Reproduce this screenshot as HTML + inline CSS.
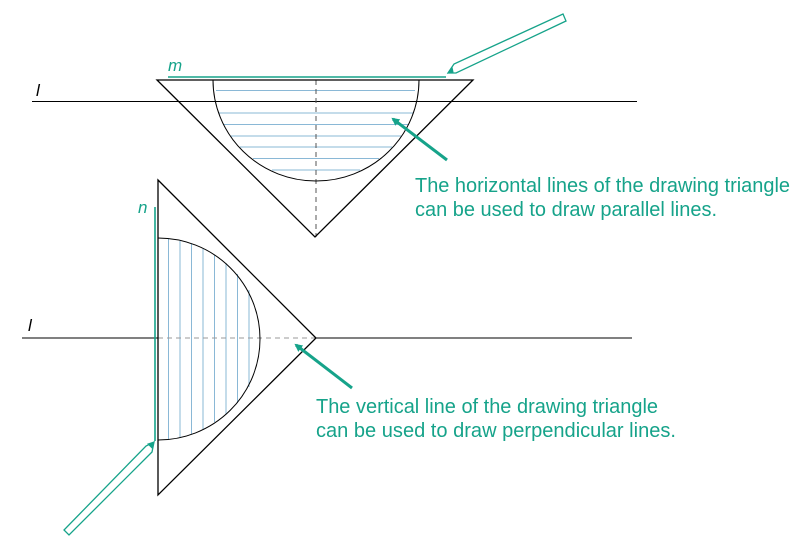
<!DOCTYPE html>
<html><head><meta charset="utf-8"><style>
html,body{margin:0;padding:0;background:#fff;}
svg{display:block;}
text{font-family:"Liberation Sans",Arial,sans-serif;}
</style></head><body>
<svg width="800" height="557" viewBox="0 0 800 557" xmlns="http://www.w3.org/2000/svg">
<defs>
<marker id="ah" markerWidth="8" markerHeight="8" refX="6" refY="4" orient="auto" markerUnits="userSpaceOnUse">
<path d="M0,0 L8,4 L0,8 Z" fill="#16a38a"/>
</marker>
</defs>
<g fill="none" stroke-width="1">
<g stroke="#8ab8d6">
<line x1="216" y1="90.5" x2="415" y2="90.5"/>
<line x1="214" y1="101.5" x2="416" y2="101.5"/>
<line x1="219" y1="113" x2="413" y2="113"/>
<line x1="224" y1="124.5" x2="408" y2="124.5"/>
<line x1="231" y1="136" x2="401" y2="136"/>
<line x1="240" y1="147" x2="392" y2="147"/>
<line x1="253" y1="158.5" x2="379" y2="158.5"/>
<line x1="272" y1="170" x2="360" y2="170"/>
</g>
<line x1="32" y1="101.5" x2="637" y2="101.5" stroke="#000"/>
<line x1="316" y1="80" x2="316" y2="237" stroke="#555" stroke-dasharray="5,4"/>
<path d="M213,80 A103,101 0 0 0 419,80" stroke="#000"/>
<path d="M157,80 L473,80 L315,237 Z" stroke="#000" stroke-width="1.3"/>
<line x1="168" y1="77" x2="446" y2="77" stroke="#16a38a" stroke-width="1.6"/>
<path d="M448,73 L454,64 L563,14 L566,21 L456,73 Z" stroke="#16a38a" stroke-width="1.3"/>
<path d="M448,73 L452,67 L453,72 Z" fill="#16a38a" stroke="#16a38a"/>
<g stroke="#8ab8d6">
<line x1="168.5" y1="239" x2="168.5" y2="439"/>
<line x1="180" y1="241" x2="180" y2="437"/>
<line x1="191.5" y1="244" x2="191.5" y2="434"/>
<line x1="203" y1="249" x2="203" y2="429"/>
<line x1="214.5" y1="255" x2="214.5" y2="422"/>
<line x1="226" y1="263" x2="226" y2="414"/>
<line x1="237.5" y1="274" x2="237.5" y2="403"/>
<line x1="249" y1="290" x2="249" y2="387"/>
</g>
<line x1="22" y1="338" x2="158" y2="338" stroke="#000"/>
<line x1="316" y1="338" x2="632" y2="338" stroke="#000"/>
<line x1="158" y1="338" x2="316" y2="338" stroke="#999" stroke-dasharray="5,4"/>
<path d="M158,238 A102,101 0 0 1 158,440" stroke="#000"/>
<path d="M158,180 L158,495 L316,338 Z" stroke="#000" stroke-width="1.3"/>
<line x1="155" y1="207" x2="155" y2="441" stroke="#16a38a" stroke-width="1.6"/>
<path d="M154,442 L152,452 L69,535 L64,530 L146,446 Z" stroke="#16a38a" stroke-width="1.3"/>
<path d="M154,442 L148,444 L152,448 Z" fill="#16a38a" stroke="#16a38a"/>
<line x1="447" y1="160" x2="393" y2="119" stroke="#16a38a" stroke-width="3" marker-end="url(#ah)"/>
<line x1="352" y1="388" x2="296" y2="345" stroke="#16a38a" stroke-width="3" marker-end="url(#ah)"/>
</g>
<g fill="#16a38a" font-size="20">
<text x="415" y="192" textLength="375" lengthAdjust="spacingAndGlyphs">The horizontal lines of the drawing triangle</text>
<text x="415" y="216" textLength="302" lengthAdjust="spacingAndGlyphs">can be used to draw parallel lines.</text>
<text x="316" y="413" textLength="342" lengthAdjust="spacingAndGlyphs">The vertical line of the drawing triangle</text>
<text x="316" y="437" textLength="360" lengthAdjust="spacingAndGlyphs">can be used to draw perpendicular lines.</text>
<text x="168" y="71" font-style="italic" font-size="17">m</text>
<text x="138" y="213" font-style="italic" font-size="17">n</text>
</g>
<g fill="#000" font-style="italic" font-size="17">
<text x="36" y="96">l</text>
<text x="28" y="331">l</text>
</g>
</svg>
</body></html>
